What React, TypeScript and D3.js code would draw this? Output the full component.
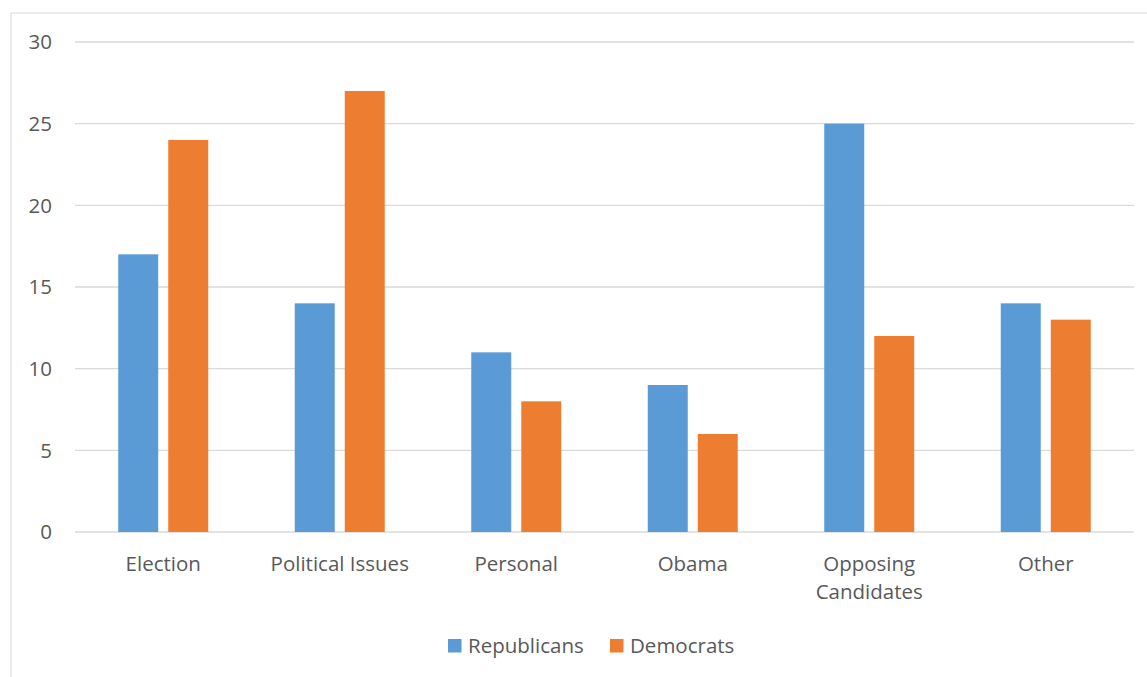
import React from "react";
import * as d3 from "d3";

const categories = ["Election", "Political Issues", "Personal", "Obama", "Opposing Candidates", "Other"];
const republicans = [17, 14, 11, 9, 25, 14];
const democrats = [24, 27, 8, 6, 12, 13];
const yTicks = [0, 5, 10, 15, 20, 25, 30];
const seriesNames = ["Republicans", "Democrats"];
const colors = ["#5b9bd5", "#ed7d31"];

const W = 1147, H = 677;
const left = 75, right = 1134, top = 42, bottom = 532;
const font = "'Open Sans', sans-serif";
const txt = "#595959";

export default function App() {
  const x = d3.scaleBand<string>().domain(categories).range([left, right]).padding(0);
  const y = d3.scaleLinear().domain([0, 30]).range([bottom, top]);
  const barW = 40, gap = 10;
  const series = [republicans, democrats];
  const labelLines = (c: string) => (c === "Opposing Candidates" ? ["Opposing", "Candidates"] : [c]);
  return (
    <svg width={W} height={H} style={{ position: "absolute", left: 0, top: 0, background: "#fff" }}>
      <rect x={11} y={13} width={W} height={H} fill="none" stroke="#d9d9d9" strokeWidth={1} />
      {yTicks.map((t) => (
        <g key={t}>
          <line x1={left} x2={right} y1={y(t)} y2={y(t)} stroke="#d9d9d9" strokeWidth={1.3} />
          <text x={52} y={y(t)} dy="0.35em" textAnchor="end" fill={txt} fontFamily={font} fontSize={20.5}>{t}</text>
        </g>
      ))}
      {categories.map((c, i) => {
        const cx = x(c)! + x.bandwidth() / 2;
        return (
          <g key={c}>
            {series.map((s, k) => {
              const bx = k === 0 ? cx - gap / 2 - barW : cx + gap / 2;
              return <rect key={k} x={bx} y={y(s[i])} width={barW} height={y(0) - y(s[i])} fill={colors[k]} />;
            })}
            {labelLines(c).map((l, j) => (
              <text key={j} x={cx} y={564 + j * 28} dy="0.35em" textAnchor="middle" fill={txt} fontFamily={font} fontSize={20.5}>{l}</text>
            ))}
          </g>
        );
      })}
      {seriesNames.map((n, k) => {
        const lx = k === 0 ? 448 : 610;
        return (
          <g key={n}>
            <rect x={lx} y={639} width={13.5} height={13.5} fill={colors[k]} />
            <text x={lx + 20} y={646} dy="0.35em" fill={txt} fontFamily={font} fontSize={20.5}>{n}</text>
          </g>
        );
      })}
    </svg>
  );
}
